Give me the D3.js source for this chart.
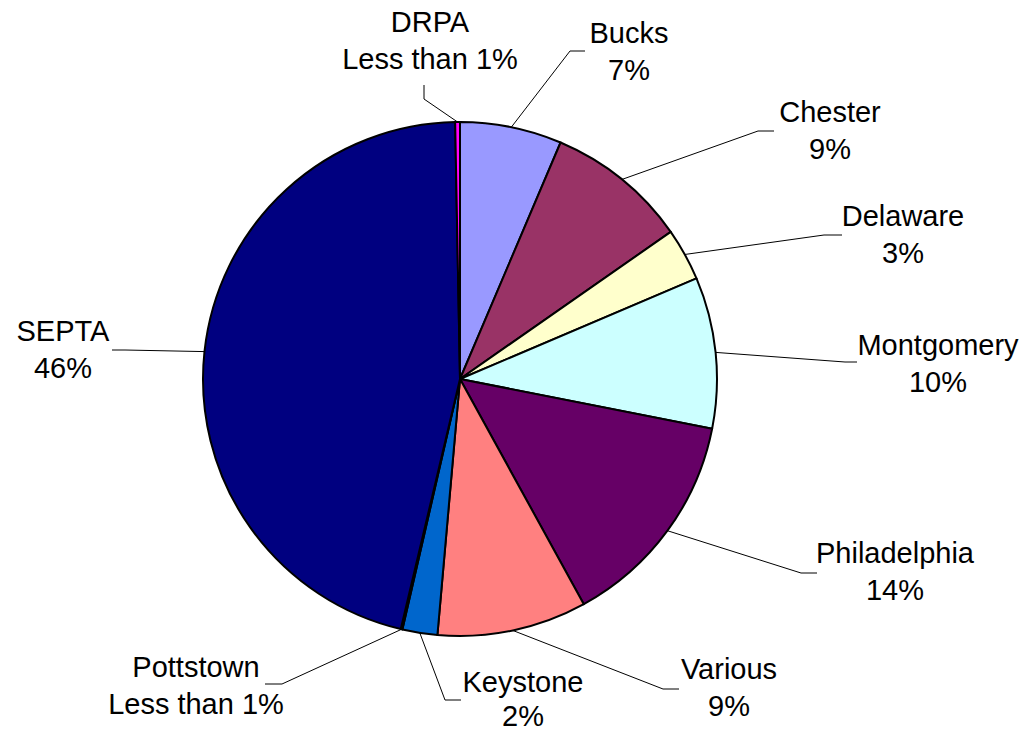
<!DOCTYPE html>
<html>
<head>
<meta charset="utf-8">
<script src="https://cdn.jsdelivr.net/npm/d3@7"></script>
<style>
  html, body { margin: 0; padding: 0; background: #fff; }
  svg { display: block; }
  text { font-family: "Liberation Sans", Arial, sans-serif; font-size: 29px; fill: #000; }
</style>
</head>
<body>
<svg id="chart" width="1028" height="736"></svg>
<script>
// ---- data (clockwise from 12 o'clock) ----
const categories = ["Bucks", "Chester", "Delaware", "Montgomery", "Philadelphia", "Various", "Keystone", "Pottstown", "SEPTA", "DRPA"];
const values = [6.4, 8.9, 3.3, 9.5, 13.9, 9.4, 2.2, 0.1, 46.0, 0.3];
const percentLabels = ["7%", "9%", "3%", "10%", "14%", "9%", "2%", "Less than 1%", "46%", "Less than 1%"];
const colors = ["#9999FF", "#993366", "#FFFFCC", "#CCFFFF", "#660066", "#FF8080", "#0066CC", "#CCCCFF", "#000080", "#FF00FF"];

// ---- layout (label placement) ----
const cx = 460, cy = 379, radius = 257, lineGap = 37;
const labelLayout = [
  { tx: 629, ty: 43,  elbow: [570, 51],  end: [585, 51] },
  { tx: 830, ty: 122, elbow: [758, 131], end: [774, 131] },
  { tx: 903, ty: 226, elbow: [824, 235], end: [842, 235] },
  { tx: 938, ty: 355, elbow: [845, 362], end: [857, 362] },
  { tx: 895, ty: 563, elbow: [801, 573], end: [817, 573] },
  { tx: 729, ty: 679, elbow: [663, 689], end: [679, 689] },
  { tx: 523, ty: 692, elbow: [445, 700], end: [461, 700], gap: 34 },
  { tx: 196, ty: 677, elbow: [282, 684], end: [265, 684] },
  { tx: 63,  ty: 341, elbow: [125, 350], end: [112, 350] },
  { tx: 430, ty: 32,  elbow: [424, 99],  end: [424, 85] }
];

const data = categories.map((c, i) => ({ name: c, value: values[i], pct: percentLabels[i], color: colors[i], layout: labelLayout[i] }));

const svg = d3.select("#chart");
const g = svg.append("g").attr("transform", `translate(${cx},${cy})`);

const pie = d3.pie().value(d => d.value).sort(null).startAngle(0).endAngle(2 * Math.PI);
const arcs = pie(data);
const arc = d3.arc().innerRadius(0).outerRadius(radius);

// leader lines
const lineGen = d3.line();
svg.append("g").selectAll("path.leader")
  .data(arcs)
  .join("path")
  .attr("class", "leader")
  .attr("fill", "none")
  .attr("stroke", "#000")
  .attr("stroke-width", 1)
  .attr("d", d => {
    const a = (d.startAngle + d.endAngle) / 2;
    const p0 = [cx + radius * Math.sin(a), cy - radius * Math.cos(a)];
    return lineGen([p0, d.data.layout.elbow, d.data.layout.end]);
  });

// slices
g.selectAll("path.slice")
  .data(arcs)
  .join("path")
  .attr("class", "slice")
  .attr("d", arc)
  .attr("fill", d => d.data.color)
  .attr("stroke", "#000")
  .attr("stroke-width", 2)
  .attr("stroke-linejoin", "round");

// labels
const labels = svg.append("g").selectAll("text")
  .data(arcs)
  .join("text")
  .attr("text-anchor", "middle")
  .attr("x", d => d.data.layout.tx)
  .attr("y", d => d.data.layout.ty);
labels.append("tspan").attr("x", d => d.data.layout.tx).text(d => d.data.name);
labels.append("tspan").attr("x", d => d.data.layout.tx).attr("dy", d => d.data.layout.gap || lineGap).text(d => d.data.pct);
</script>
</body>
</html>
